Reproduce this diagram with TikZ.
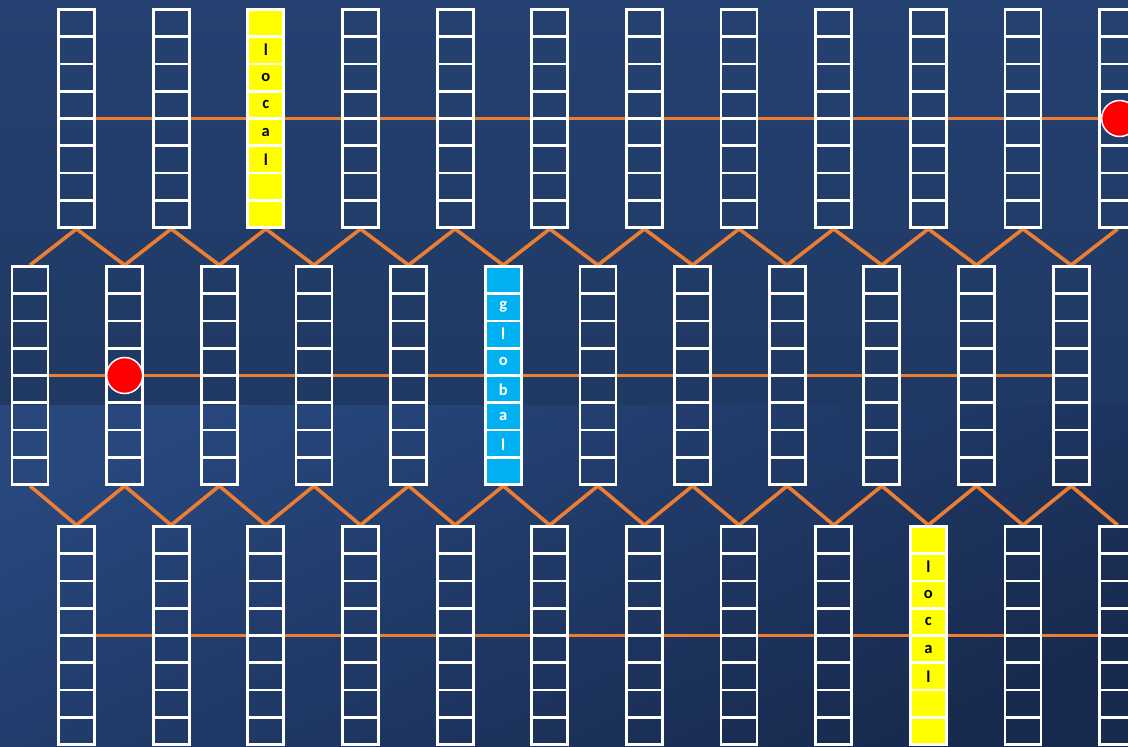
\documentclass[tikz,border=0pt]{standalone}
\usepackage{fontspec}
\setmainfont{Carlito}
\usetikzlibrary{calc}

\definecolor{bgupper}{HTML}{244171}
\definecolor{bgband}{HTML}{203963}
\definecolor{bglower}{HTML}{27477D}
\definecolor{bgcorner}{HTML}{182A4E}
\definecolor{wireorange}{HTML}{ED7D31}
\definecolor{localyellow}{HTML}{FFFF00}
\definecolor{globalcyan}{HTML}{00B0F0}

\pgfdeclarelayer{back}
\pgfdeclarelayer{wires}
\pgfsetlayers{back,wires,main}

\begin{document}
\begin{tikzpicture}[
  x=1pt, y=-1pt,
  ladder/.style={
    draw=white,
    line width=2.8pt,
    minimum width=36pt,
    minimum height=218pt,
    inner sep=0pt,
    path picture={
      \foreach \k in {1,...,7}
        \draw[white,line width=2.8pt]
          ($(path picture bounding box.north west)!\k/8!(path picture bounding box.south west)$) --
          ($(path picture bounding box.north east)!\k/8!(path picture bounding box.south east)$);
    }
  },
  hl t3/.style={fill=localyellow},
  hl b10/.style={fill=localyellow},
  hl m6/.style={fill=globalcyan},
  letter/.style={font=\fontsize{16.5}{16.5}\selectfont\bfseries, inner sep=0pt},
  wire/.style={draw=wireorange, line width=3.6pt},
  token/.style={circle, fill=red, draw=white, line width=1.5pt, minimum size=36pt, inner sep=0pt}
]
  \useasboundingbox (0,0) rectangle (1128,747);

  % background
  \begin{pgfonlayer}{back}
    \shade[top color=bgupper, bottom color=bgband] (0,0) rectangle (1128,405);
    \shade[top color=bglower, bottom color=bgcorner, shading angle=25] (0,405) rectangle (1128,747);
  \end{pgfonlayer}

  % three rows of ladders
  \foreach \i in {1,...,12} {
    \node[ladder, hl t\i/.try] (t\i) at ({76.5+94.65*(\i-1)},118.5) {};
    \node[ladder, hl m\i/.try] (m\i) at ({30+94.65*(\i-1)},375.5) {};
    \node[ladder, hl b\i/.try] (b\i) at ({76.5+94.65*(\i-1)},635.5) {};
  }

  % labels
  \foreach \c [count=\k from 2] in {l,o,c,a,l}
    \node[letter] (t3-\k) at ($(t3.north)!{(\k-0.5)/8}!(t3.south)$) {\c};
  \foreach \c [count=\k from 2] in {g,l,o,b,a,l}
    \node[letter, text=white] (m6-\k) at ($(m6.north)!{(\k-0.5)/8}!(m6.south)$) {\c};
  \foreach \c [count=\k from 2] in {l,o,c,a,l}
    \node[letter] (b10-\k) at ($(b10.north)!{(\k-0.5)/8}!(b10.south)$) {\c};

  % links
  \begin{pgfonlayer}{wires}
    \foreach \i [evaluate=\i as \j using int(\i+1)] in {1,...,11} {
      \draw[wire] (t\i.east) -- (t\j.west);
      \draw[wire] (m\i.east) -- (m\j.west);
      \draw[wire] (b\i.east) -- (b\j.west);
    }
    \draw[wire] (m1.north) -- (t1.south) \foreach \i in {2,...,12} { -- (m\i.north) -- (t\i.south) };
    \draw[wire] (m1.south) -- (b1.north) \foreach \i in {2,...,12} { -- (m\i.south) -- (b\i.north) };
  \end{pgfonlayer}

  \node[token] (tok1) at (m2) {};
  \node[token] (tok2) at ($(t12)+(2,0)$) {};
\end{tikzpicture}
\end{document}
